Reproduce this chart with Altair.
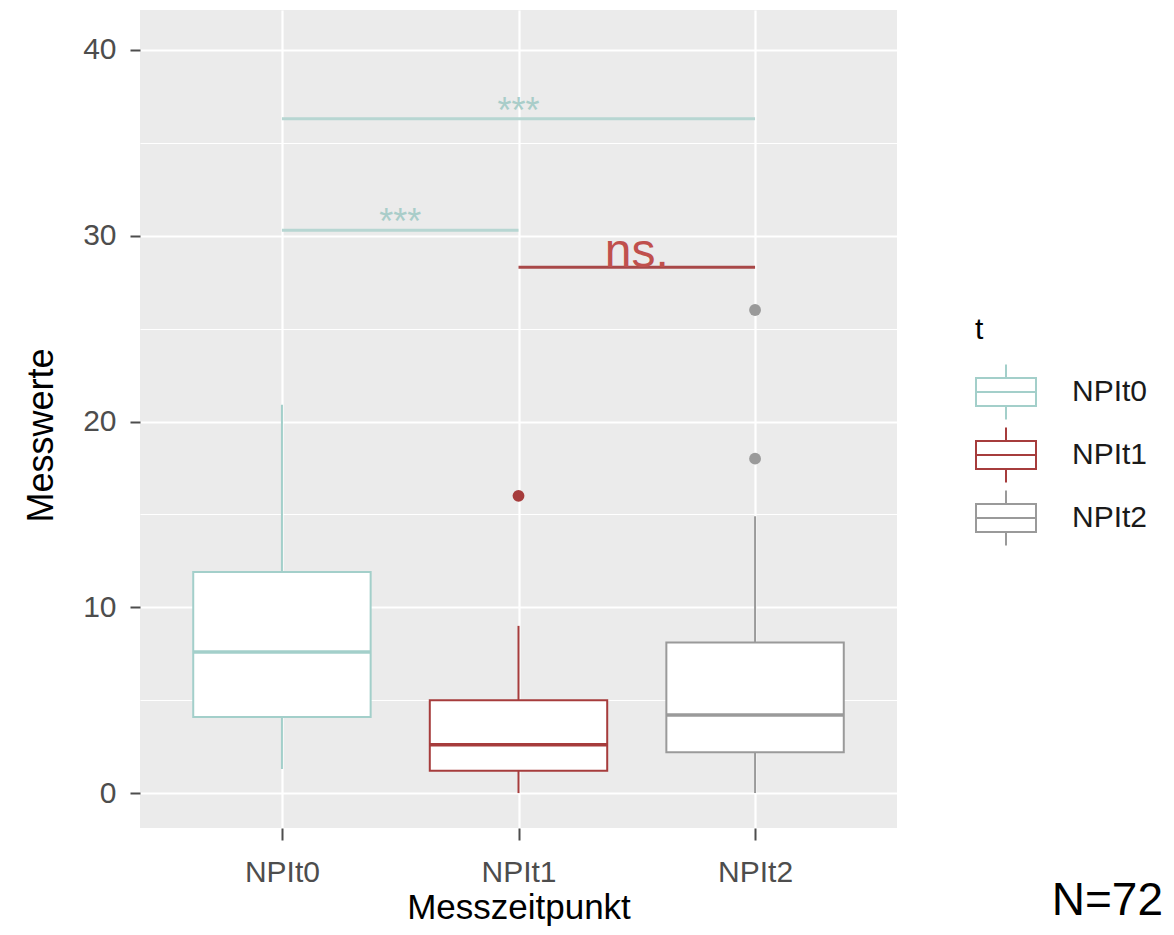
import json
import altair as alt
import pandas as pd

# ---------------- data ----------------
categories = ["NPIt0", "NPIt1", "NPIt2"]
whisker_low = [1.3, 0.0, 0.0]
q1 = [4.1, 1.2, 2.2]
median = [7.6, 2.6, 4.2]
q3 = [11.9, 5.0, 8.1]
whisker_high = [20.9, 9.0, 14.9]

outlier_cat = ["NPIt1", "NPIt2", "NPIt2"]
outlier_val = [16.0, 18.0, 26.0]

sig_from = ["NPIt0", "NPIt0", "NPIt1"]
sig_to = ["NPIt2", "NPIt1", "NPIt2"]
sig_y = [36.3, 30.3, 28.3]
sig_label = ["***", "***", "ns."]

y_ticks = [0, 5, 10, 15, 20, 25, 30, 35, 40]
n_label = "N=72"

# ---------------- styling ----------------
FONT = "Liberation Sans"
box_colors = ["#a3cfca", "#a63c3c", "#9a9a9a"]
star_color = "#a9cdc9"
star_line = "#b7d6d2"
ns_color = "#c0504d"
ns_line = "#a84848"

cat_js = json.dumps(categories)
col_js = json.dumps(box_colors)

box_df = pd.DataFrame({
    "cat": categories,
    "idx": list(range(len(categories))),
    "low": whisker_low, "q1": q1, "med": median, "q3": q3, "high": whisker_high,
})
out_df = pd.DataFrame({"cat": outlier_cat, "val": outlier_val})
sig_df = pd.DataFrame({"a": sig_from, "b": sig_to, "y": sig_y, "label": sig_label})

x_scale = alt.Scale(domain=[-0.6, 2.6], nice=False, zero=False)
y_scale = alt.Scale(domain=[-1.88, 42.15], nice=False, zero=False)
c_scale = alt.Scale(domain=categories, range=box_colors)

x_axis = alt.Axis(
    values=list(range(len(categories))),
    labelExpr=f"{cat_js}[datum.value]",
    title="Messzeitpunkt",
    titleFont=FONT, titleFontSize=35, titleFontWeight="normal", titleColor="#000000",
    titleY=90, titleBaseline="alphabetic",
    labelFont=FONT, labelFontSize=30, labelColor="#4d4d4d", labelPadding=17,
    tickSize=12, tickWidth=2, tickColor="#4d4d4d",
    domain=False, grid=True, gridColor="#ffffff", gridWidth=2.2,
)
y_axis = alt.Axis(
    values=y_ticks,
    labelExpr="datum.value % 10 === 0 ? datum.label : ''",
    title="Messwerte",
    titleFont=FONT, titleFontSize=36, titleFontWeight="normal", titleColor="#000000",
    titleX=-88, titleY=425, titleBaseline="alphabetic", titleAngle=270,
    labelFont=FONT, labelFontSize=30, labelColor="#4d4d4d", labelPadding=14,
    tickSize=10, tickWidth=2, tickColor="#4d4d4d",
    tickOpacity={"condition": {"test": "datum.value % 10 !== 0", "value": 0}, "value": 1},
    domain=False, grid=True, gridColor="#ffffff",
    gridWidth={"condition": {"test": "datum.value % 10 === 0", "value": 2.2}, "value": 1.1},
)

legend_path = "M-1,-0.47H1V0.47H-1Z M-1,0H1 M0,-0.92V-0.47 M0,0.47V0.92"
legend = alt.Legend(
    title="t", orient="none", legendX=835, legendY=305,
    titleFont=FONT, titleFontSize=30, titleFontWeight="normal", titleColor="#000000",
    titlePadding=16,
    labelFont=FONT, labelFontSize=30, labelColor="#1a1a1a", labelOffset=35,
    symbolType=legend_path, symbolSize=3600, symbolFillColor="#ffffff",
    symbolStrokeWidth=2, rowPadding=-3, padding=0,
)

X = lambda f: alt.X(f, scale=x_scale, axis=x_axis)
Y = lambda f: alt.Y(f, scale=y_scale, axis=y_axis)
# colour of every non-legend layer is looked up directly (no scale, no legend)
C = alt.Color("col:N", scale=None)
col_expr = f"{col_js}[indexof({cat_js}, datum.cat)]"

idx_expr = lambda field: f"indexof({cat_js}, datum.{field})"

base = alt.Chart(box_df).transform_calculate(
    left="datum.idx - 0.375", right="datum.idx + 0.375", col=col_expr
)

whiskers = base.mark_rule(strokeWidth=2).encode(
    x=X("idx:Q"), y=Y("low:Q"), y2="high:Q", color=C,
)

# the only layer with a scaled colour channel carries the legend
boxes = base.mark_bar(fill="#ffffff", strokeWidth=2).encode(
    x=X("left:Q"), x2="right:Q", y=Y("q1:Q"), y2="q3:Q",
    stroke=alt.Stroke("cat:N", scale=c_scale, legend=legend),
)

medians = base.mark_rule(strokeWidth=3.5).encode(
    x=X("left:Q"), x2="right:Q", y=Y("med:Q"), color=C,
)

outliers = alt.Chart(out_df).transform_calculate(
    idx=idx_expr("cat"), col=col_expr
).mark_circle(size=140, opacity=1).encode(
    x=X("idx:Q"), y=Y("val:Q"), color=C,
)

sig_base = alt.Chart(sig_df).transform_calculate(
    ia=idx_expr("a"), ib=idx_expr("b"), mid=f"({idx_expr('a')} + {idx_expr('b')}) / 2"
)

star_rules = sig_base.transform_filter("datum.label === '***'").mark_rule(
    strokeWidth=3, color=star_line
).encode(x=X("ia:Q"), x2="ib:Q", y=Y("y:Q"))
star_text = sig_base.transform_filter("datum.label === '***'").mark_text(
    font=FONT, fontSize=36, color=star_color, baseline="alphabetic", dy=4
).encode(x=X("mid:Q"), y=Y("y:Q"), text="label:N")
ns_rules = sig_base.transform_filter("datum.label !== '***'").mark_rule(
    strokeWidth=3, color=ns_line
).encode(x=X("ia:Q"), x2="ib:Q", y=Y("y:Q"))
ns_text = sig_base.transform_filter("datum.label !== '***'").mark_text(
    font=FONT, fontSize=48, color=ns_color, baseline="alphabetic", dy=0
).encode(x=X("mid:Q"), y=Y("y:Q"), text="label:N")

chart = alt.layer(
    whiskers, boxes, medians, outliers, star_rules, star_text, ns_rules, ns_text
).properties(
    width=757,
    height=818,
    background="#ffffff",
    autosize=alt.AutoSizeParams(type="none"),
    padding={"left": 132, "top": 2, "right": 265, "bottom": 98},
    title=alt.Title(
        n_label, orient="bottom", anchor="end", frame="group",
        font=FONT, fontSize=46, fontWeight="normal", color="#000000",
        baseline="alphabetic", dx=266, dy=-14,
    ),
).configure_view(
    fill="#EBEBEB", strokeWidth=0
)

chart.save("out.html", embed_options={"renderer": "svg", "actions": False})
